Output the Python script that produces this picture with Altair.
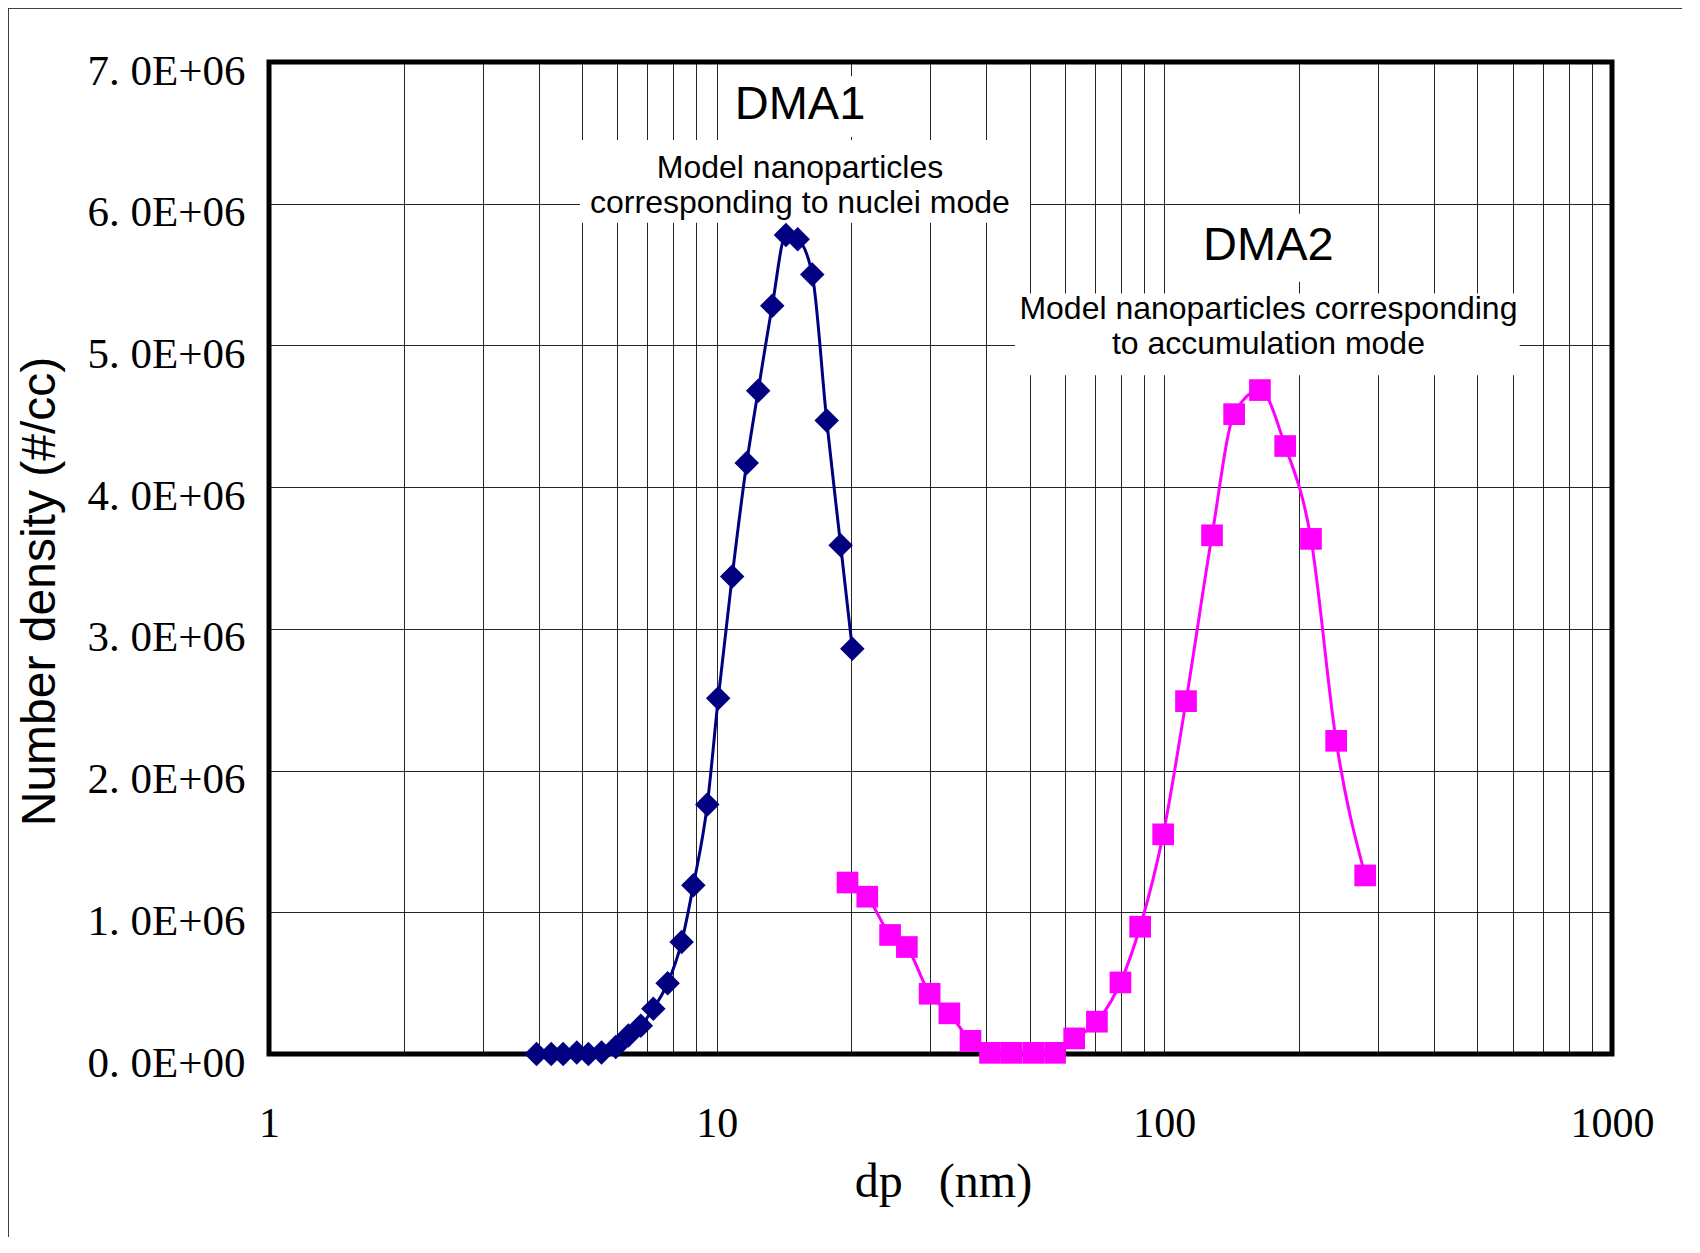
import altair as alt
import pandas as pd

# ---- data ----
dma1_dp = [3.96, 4.27, 4.54, 4.87, 5.17, 5.53, 5.95, 6.35, 6.77, 7.22, 7.77, 8.35, 8.87,
           9.53, 10.08, 10.83, 11.67, 12.38, 13.31, 14.28, 15.17, 16.35, 17.61, 18.92, 20.09]
dma1_n = [0.0, 0.0, 0.0, 0.01, 0.0, 0.01, 0.05, 0.13, 0.20, 0.32, 0.50, 0.79, 1.19,
          1.76, 2.51, 3.37, 4.17, 4.68, 5.28, 5.78, 5.75, 5.50, 4.47, 3.59, 2.86]

dma2_dp = [19.6, 21.7, 24.4, 26.6, 29.9, 33.1, 36.9, 40.8, 45.6, 51.0, 57.0, 62.9,
           70.7, 79.8, 88.3, 99.4, 111.8, 127.8, 143.2, 163.5, 186.2, 212.6, 242.0, 281.0]
dma2_n = [1.21, 1.11, 0.84, 0.755, 0.425, 0.287, 0.093, 0.008, 0.008, 0.008, 0.008, 0.11,
          0.228, 0.505, 0.898, 1.55, 2.49, 3.66, 4.515, 4.685, 4.29, 3.635, 2.21, 1.26]

x_labels = [1, 10, 100, 1000]
x_grid = [m * d for d in (1, 10, 100) for m in range(1, 10)] + [1000]
y_ticks = [0, 1e6, 2e6, 3e6, 4e6, 5e6, 6e6, 7e6]

# annotation texts (position in data coordinates)
titles = ["DMA1", "DMA2"]
title_dp = [15.35, 170.8]
title_n = [6.70e6, 5.70e6]
sub_text = ["Model nanoparticles", "corresponding to nuclei mode",
            "Model nanoparticles corresponding", "to accumulation mode"]
sub_dp = [15.35, 15.35, 170.8, 170.8]
sub_n = [6.253e6, 6.008e6, 5.258e6, 5.013e6]
# white boxes behind the annotations
box_dp = [10.44, 4.95, 114.0, 46.4]
box_dp2 = [22.6, 50.1, 259.8, 622.0]
box_n = [6.47e6, 5.865e6, 5.45e6, 4.79e6]
box_n2 = [6.90e6, 6.45e6, 5.93e6, 5.366e6]

df1 = pd.DataFrame({"dp": dma1_dp, "n": [v * 1e6 for v in dma1_n]})
df2 = pd.DataFrame({"dp": dma2_dp, "n": [v * 1e6 for v in dma2_n]})
df_t = pd.DataFrame({"dp": title_dp, "n": title_n, "text": titles})
df_s = pd.DataFrame({"dp": sub_dp, "n": sub_n, "text": sub_text})
df_b = pd.DataFrame({"dp": box_dp, "dp2": box_dp2, "n": box_n, "n2": box_n2})

label_expr_x = " || ".join(f"datum.value == {v}" for v in x_labels)

X = alt.X(
    "dp:Q",
    scale=alt.Scale(type="log", domain=[1, 1000], nice=False),
    axis=alt.Axis(
        values=x_grid,
        labelExpr=f"({label_expr_x}) ? format(datum.value, 'd') : ''",
        labelOverlap=False,
        labelFlush=False,
        labelFont="Liberation Serif",
        labelFontSize=42,
        labelColor="black",
        labelBaseline="middle",
        labelPadding=69,
        ticks=False,
        tickSize=0,
        domain=False,
        grid=True,
        gridColor="black",
        gridWidth=1,
        gridOpacity=0.85,
        title="dp\u00a0\u00a0\u00a0(nm)",
        titleFont="Liberation Serif",
        titleFontSize=48,
        titleFontWeight="normal",
        titleColor="black",
        titleX=674,
        titleY=128,
        titleAlign="center",
        titleBaseline="middle",
    ),
)

Y = alt.Y(
    "n:Q",
    scale=alt.Scale(domain=[0, 7e6], nice=False, zero=True),
    axis=alt.Axis(
        values=y_ticks,
        labelExpr="replace(format(datum.value/1000000, '.1f'), '.', '. ') + (datum.value == 0 ? 'E+00' : 'E+06')",
        labelOverlap=False,
        labelFlush=False,
        labelFont="Liberation Serif",
        labelFontSize=43,
        labelColor="black",
        labelPadding=24,
        labelOffset=9,
        ticks=False,
        tickSize=0,
        domain=False,
        grid=True,
        gridColor="black",
        gridWidth=1,
        gridOpacity=0.85,
        title="Number density (#/cc)",
        titleFont="Liberation Sans",
        titleFontSize=48,
        titleFontWeight="normal",
        titleColor="black",
        titleX=-229,
        titleY=529,
        titleAngle=270,
        titleAlign="center",
        titleBaseline="middle",
    ),
)

boxes = alt.Chart(df_b).mark_rect(fill="white", stroke=None).encode(
    x=X, x2="dp2:Q", y=Y, y2="n2:Q"
)

line1 = alt.Chart(df1).mark_line(color="#000080", strokeWidth=3, interpolate="monotone").encode(x=X, y=Y)
pts1 = alt.Chart(df1).mark_point(shape="diamond", filled=True, size=600, color="#000080", opacity=1).encode(x=X, y=Y)

line2 = alt.Chart(df2).mark_line(color="#FF00FF", strokeWidth=3, interpolate="monotone").encode(x=X, y=Y)
pts2 = alt.Chart(df2).mark_point(shape="square", filled=True, size=470, color="#FF00FF", opacity=1).encode(x=X, y=Y)

title_txt = alt.Chart(df_t).mark_text(
    font="Liberation Sans", fontSize=47, color="black", baseline="middle", align="center"
).encode(x=X, y=Y, text="text:N")

sub_txt = alt.Chart(df_s).mark_text(
    font="Liberation Sans", fontSize=32, color="black", baseline="middle", align="center"
).encode(x=X, y=Y, text="text:N")

# outer frame lines of the picture
frame_top = alt.Chart(df_t).mark_rule(color="#333333", strokeWidth=1.5).encode(
    x=alt.value(-261), x2=alt.value(1420), y=alt.value(-54)
)
frame_left = alt.Chart(df_t).mark_rule(color="#333333", strokeWidth=1.5).encode(
    x=alt.value(-261), y=alt.value(-54), y2=alt.value(1200)
)

chart = alt.layer(
    boxes, line1, line2, pts2, pts1, title_txt, sub_txt, frame_top, frame_left
).properties(
    width=1343,
    height=992,
    autosize=alt.AutoSizeParams(type="none"),
    padding={"left": 261, "top": 54, "right": 70, "bottom": 183},
    background="white",
).configure_view(
    stroke="black", strokeWidth=5
)

chart.save("out.html", embed_options={"renderer": "svg", "actions": False})
